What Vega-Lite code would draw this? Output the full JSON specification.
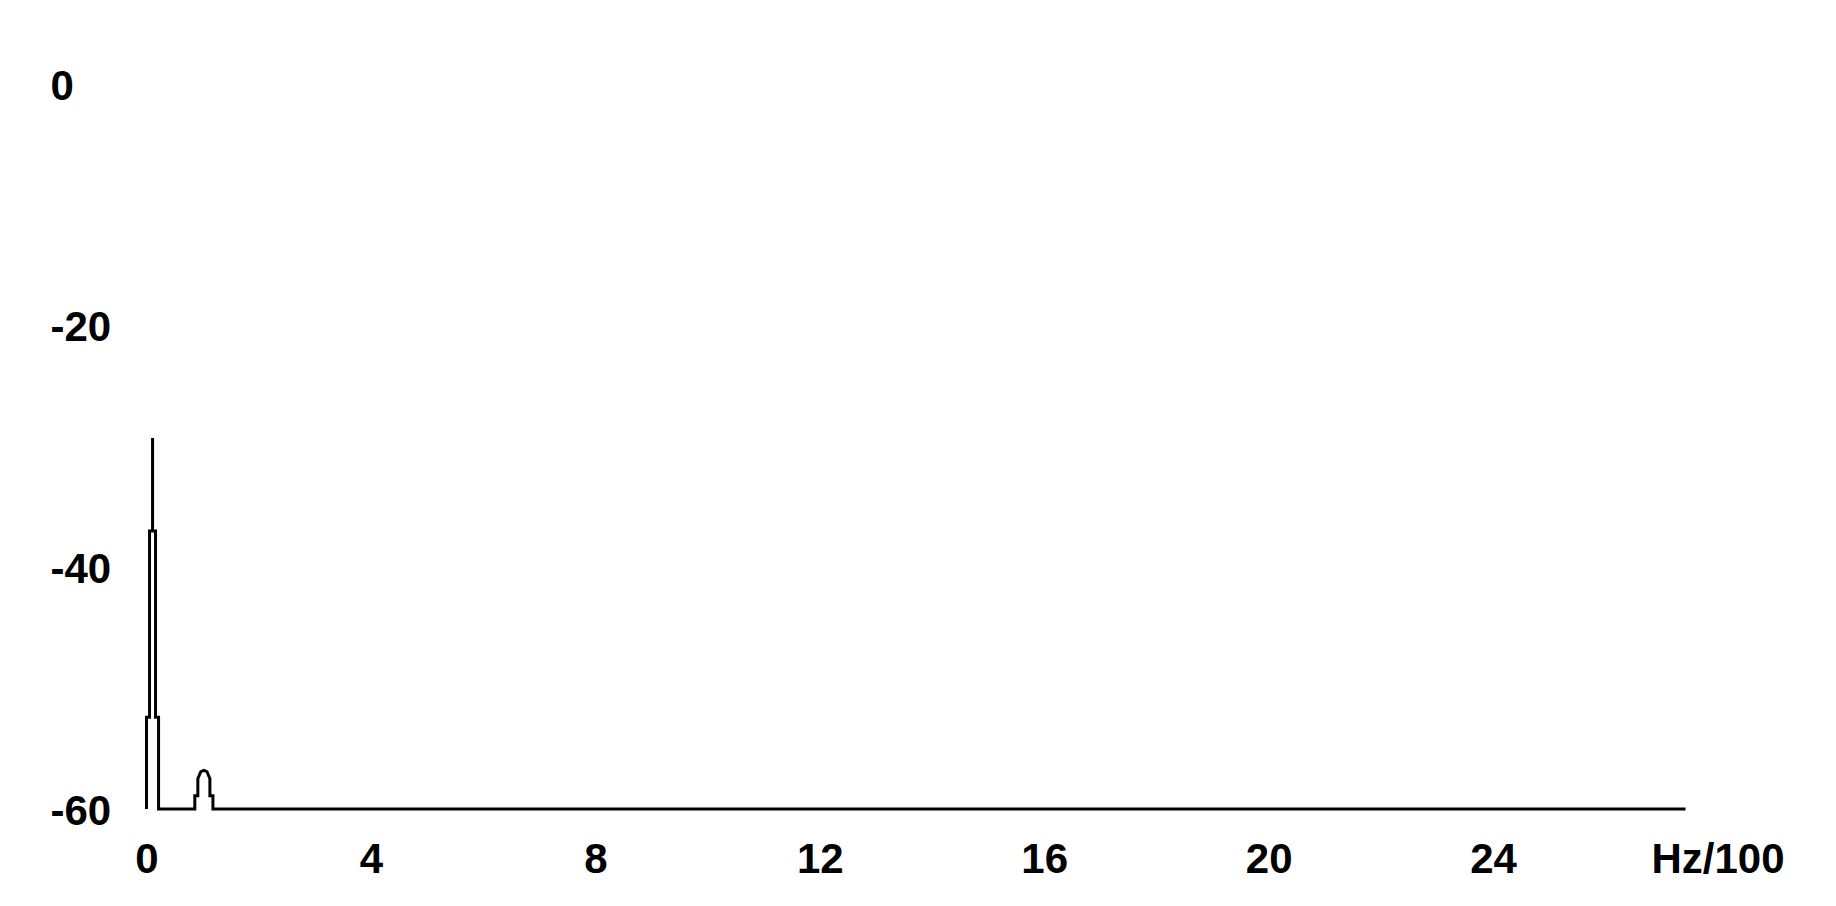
{
  "$schema": "https://vega.github.io/schema/vega-lite/v6.json",
  "description": "Spectrum, dB against Hz/100",
  "autosize": "none",
  "width": 1571,
  "height": 725,
  "padding": {"left": 146.5, "top": 84, "right": 118.5, "bottom": 97},
  "background": "white",
  "data": {
    "values": [
      {"i": 1, "f": 0, "db": -60},
      {"i": 2, "f": 0, "db": -52.4},
      {"i": 3, "f": 0.054, "db": -52.4},
      {"i": 4, "f": 0.054, "db": -37},
      {"i": 5, "f": 0.108, "db": -37},
      {"i": 6, "f": 0.108, "db": -29.3},
      {"i": 7, "f": 0.108, "db": -37},
      {"i": 8, "f": 0.161, "db": -37},
      {"i": 9, "f": 0.161, "db": -52.4},
      {"i": 10, "f": 0.215, "db": -52.4},
      {"i": 11, "f": 0.215, "db": -60},
      {"i": 12, "f": 0.861, "db": -60},
      {"i": 13, "f": 0.861, "db": -58.9},
      {"i": 14, "f": 0.915, "db": -58.9},
      {"i": 15, "f": 0.915, "db": -57.5},
      {"i": 16, "f": 0.969, "db": -56.9},
      {"i": 17, "f": 1.023, "db": -56.8},
      {"i": 18, "f": 1.077, "db": -56.9},
      {"i": 19, "f": 1.13, "db": -57.5},
      {"i": 20, "f": 1.13, "db": -58.9},
      {"i": 21, "f": 1.184, "db": -58.9},
      {"i": 22, "f": 1.184, "db": -60},
      {"i": 23, "f": 27.43, "db": -60}
    ]
  },
  "mark": {"type": "line", "color": "black", "strokeWidth": 3, "strokeJoin": "miter", "strokeCap": "butt"},
  "encoding": {
    "order": {"field": "i", "type": "quantitative"},
    "x": {
      "field": "f",
      "type": "quantitative",
      "scale": {"domain": [0, 28], "nice": false, "zero": false},
      "axis": {
        "title": null,
        "values": [0, 4, 8, 12, 16, 20, 24, 28],
        "labelExpr": "datum.value == 28 ? 'Hz/100' : '' + datum.value",
        "domain": false,
        "ticks": false,
        "tickSize": 0,
        "grid": false,
        "labelPadding": 50,
        "labelBaseline": "middle",
        "labelFlush": false,
        "labelOverlap": false,
        "labelBound": false
      }
    },
    "y": {
      "field": "db",
      "type": "quantitative",
      "scale": {"domain": [-60, 0], "nice": false, "zero": false},
      "axis": {
        "title": null,
        "values": [-60, -40, -20, 0],
        "labelExpr": "'' + datum.value",
        "domain": false,
        "ticks": false,
        "tickSize": 0,
        "grid": false,
        "labelAlign": "left",
        "labelBaseline": "middle",
        "labelPadding": 96.5,
        "labelOffset": 2,
        "labelFlush": false,
        "labelOverlap": false,
        "labelBound": false
      }
    }
  },
  "config": {
    "view": {"stroke": null},
    "axis": {
      "labelFont": "Liberation Sans",
      "labelFontSize": 42,
      "labelFontWeight": "bold",
      "labelColor": "black"
    }
  }
}
